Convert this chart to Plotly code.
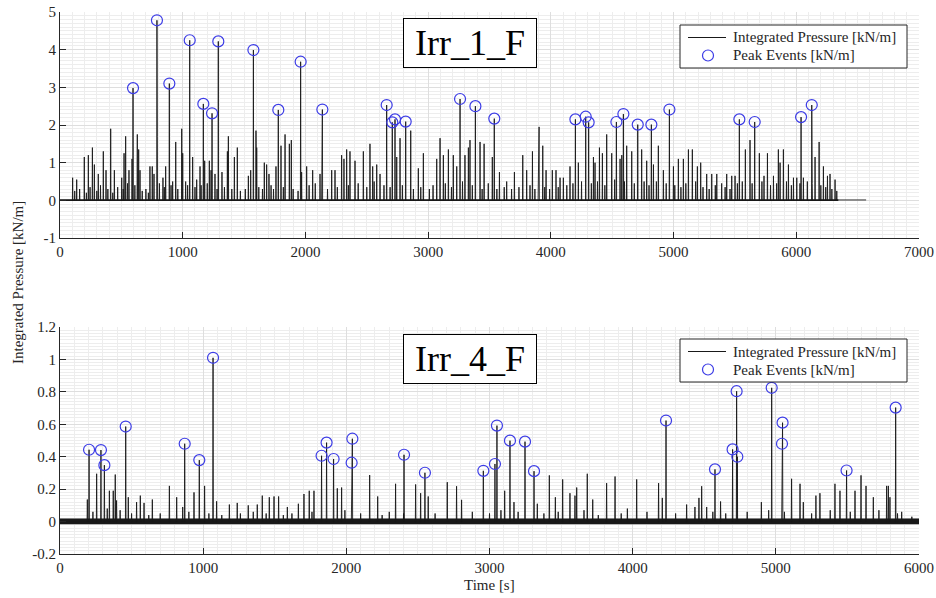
import plotly.graph_objects as go

# ---------------- data ----------------
# Top panel: Irr_1_F
TOP_PEAK_T = [595, 790, 891, 1057, 1168, 1239, 1290, 1576, 1779, 1961, 2138, 2662, 2708, 2730,
              2817, 3260, 3385, 3539, 4200, 4284, 4308, 4534, 4591, 4708, 4819, 4966, 5536,
              5661, 6039, 6126]
TOP_PEAK_V = [2.98, 4.78, 3.10, 4.25, 2.56, 2.31, 4.22, 3.99, 2.40, 3.68, 2.41, 2.53, 2.07, 2.15,
              2.09, 2.69, 2.50, 2.17, 2.15, 2.22, 2.07, 2.08, 2.29, 2.01, 2.01, 2.41, 2.15,
              2.08, 2.21, 2.53]
TOP_SPIKE_T = [103, 136, 198, 231, 264, 280, 312, 353, 375, 413, 443, 503, 522, 535, 562, 587,
               630, 641, 652, 733, 752, 766, 793, 839, 861, 918, 943, 992, 1000, 1024, 1081,
               1114, 1141, 1179, 1217, 1231, 1263, 1320, 1364, 1372, 1421, 1445, 1535, 1554,
               1597, 1603, 1665, 1684, 1703, 1760, 1801, 1834, 1869, 1885, 1969, 2010, 2059,
               2119, 2134, 2214, 2241, 2295, 2314, 2336, 2363, 2404, 2472, 2526, 2548, 2581,
               2608, 2744, 2771, 2858, 2920, 2961, 3070, 3097, 3124, 3165, 3205, 3233, 3300,
               3328, 3341, 3423, 3456, 3523, 3581, 3640, 3703, 3771, 3803, 3850, 3898, 3904,
               3934, 3961, 4012, 4042, 4075, 4102, 4156, 4224, 4347, 4360, 4396, 4420, 4455,
               4496, 4564, 4578, 4618, 4659, 4740, 4781, 4836, 4876, 4917, 4999, 5039, 5080,
               5121, 5153, 5194, 5221, 5270, 5311, 5352, 5392, 5433, 5474, 5501, 5585, 5623,
               5699, 5737, 5765, 5814, 5854, 5868, 5895, 5936, 5977, 6004, 6058, 6153, 6186,
               6221, 6254, 6275, 6316]
TOP_SPIKE_V = [0.60, 0.55, 1.15, 1.20, 1.40, 0.95, 0.70, 1.30, 0.80, 1.90, 0.80, 0.60, 1.25,
               1.70, 0.80, 1.10, 1.75, 1.35, 0.80, 0.90, 0.90, 0.70, 1.70, 0.60, 0.90, 0.50,
               1.55, 1.90, 1.25, 0.50, 1.15, 0.55, 0.90, 1.05, 1.05, 0.80, 0.70, 0.75, 1.30,
               1.70, 1.15, 1.40, 0.65, 0.80, 1.85, 1.40, 1.00, 0.95, 0.70, 0.90, 1.45, 1.75,
               1.50, 1.60, 0.75, 0.90, 0.80, 0.70, 1.95, 0.80, 0.80, 1.20, 1.10, 1.35, 1.30,
               1.05, 1.30, 1.50, 0.90, 0.95, 0.70, 1.15, 1.65, 1.85, 0.85, 1.25, 1.10, 1.65,
               1.20, 1.35, 1.20, 0.90, 1.20, 1.40, 1.60, 1.55, 1.50, 1.15, 0.75, 0.50, 0.75,
               1.20, 0.80, 1.30, 1.20, 1.95, 1.45, 0.80, 0.80, 0.80, 0.60, 0.60, 0.90, 1.00,
               1.15, 1.00, 1.40, 1.25, 1.75, 1.25, 1.10, 1.20, 1.45, 1.30, 1.35, 1.05, 0.95,
               1.45, 0.80, 0.90, 1.10, 1.10, 1.35, 1.35, 0.90, 1.00, 0.70, 0.70, 0.70, 0.45,
               0.70, 0.65, 0.65, 1.35, 1.60, 1.25, 0.65, 1.25, 0.65, 1.35, 1.00, 1.35, 0.95,
               0.60, 0.60, 0.60, 1.15, 1.55, 0.90, 0.65, 0.70, 0.55]
TOP_SMALL_T = [120, 160, 215, 245, 300, 330, 390, 430, 470, 515, 550, 610, 670, 700, 720, 810,
               850, 905, 960, 1040, 1100, 1150, 1200, 1280, 1340, 1400, 1470, 1510, 1620, 1650,
               1720, 1740, 1820, 1900, 1940, 2030, 2080, 2180, 2260, 2350, 2430, 2500, 2560,
               2640, 2690, 2790, 2880, 2940, 3010, 3040, 3140, 3190, 3280, 3360, 3440, 3490,
               3560, 3620, 3680, 3740, 3830, 3870, 3950, 3990, 4060, 4130, 4180, 4250, 4330,
               4380, 4440, 4520, 4600, 4680, 4760, 4800, 4860, 4940, 5010, 5060, 5100, 5180,
               5240, 5290, 5340, 5420, 5460, 5520, 5560, 5640, 5720, 5790, 5840, 5920, 5960,
               6030, 6090, 6130, 6200, 6240, 6290, 6330]
TOP_SMALL_V = [0.25, 0.30, 0.20, 0.35, 0.25, 0.40, 0.30, 0.20, 0.35, 0.30, 0.45, 0.40, 0.25,
               0.30, 0.20, 0.45, 0.35, 0.40, 0.30, 0.40, 0.35, 0.40, 0.45, 0.30, 0.35, 0.30,
               0.25, 0.30, 0.35, 0.30, 0.40, 0.30, 0.35, 0.30, 0.25, 0.40, 0.45, 0.30, 0.35,
               0.40, 0.45, 0.35, 0.50, 0.40, 0.35, 0.40, 0.30, 0.35, 0.30, 0.40, 0.45, 0.35,
               0.50, 0.40, 0.30, 0.45, 0.30, 0.35, 0.30, 0.35, 0.40, 0.30, 0.35, 0.30, 0.35,
               0.40, 0.45, 0.50, 0.45, 0.50, 0.40, 0.55, 0.50, 0.45, 0.50, 0.40, 0.50, 0.45,
               0.40, 0.35, 0.45, 0.50, 0.35, 0.30, 0.40, 0.35, 0.30, 0.45, 0.50, 0.45, 0.50,
               0.40, 0.45, 0.50, 0.40, 0.45, 0.50, 0.45, 0.40, 0.35, 0.30, 0.25]
TOP_ACTIVE_END = 6343      # end of the noisy record [s]
TOP_RECORD_END = 6569      # end of the record [s]
TOP_NOISE = (-0.02, 0.03)  # baseline noise band [kN/m]
TOP_TAIL_LEVEL = 0.01

# Bottom panel: Irr_4_F
BOT_PEAK_T = [203, 286, 310, 459, 871, 973, 1069, 1827, 1862, 1911, 2042, 2037, 2403, 2549,
              2957, 3038, 3052, 3143, 3248, 3311, 4233, 4575, 4698, 4726, 4731, 4971, 5047,
              5043, 5494, 5837]
BOT_PEAK_V = [0.443, 0.441, 0.348, 0.586, 0.480, 0.379, 1.010, 0.406, 0.487, 0.386, 0.511,
              0.363, 0.412, 0.301, 0.313, 0.355, 0.592, 0.499, 0.493, 0.311, 0.623, 0.322,
              0.445, 0.804, 0.400, 0.825, 0.610, 0.480, 0.315, 0.703]
BOT_SPIKE_T = [191, 256, 345, 372, 386, 395, 477, 535, 561, 587, 645, 764, 815, 857, 936,
               1010, 1094, 1183, 1238, 1315, 1378, 1413, 1462, 1495, 1527, 1588, 1665, 1704,
               1741, 1774, 1937, 1967, 2163, 2219, 2344, 2484, 2519, 2572, 2705, 2770, 2805,
               3106, 3171, 3334, 3418, 3460, 3511, 3562, 3597, 3609, 3683, 3721, 3818, 3877,
               3963, 4028, 4181, 4207, 4377, 4435, 4463, 4482, 4517, 4614, 4899, 5110, 5169,
               5192, 5280, 5308, 5413, 5448, 5553, 5595, 5630, 5681, 5774, 5786, 5797, 5879]
BOT_SPIKE_V = [0.136, 0.295, 0.190, 0.190, 0.290, 0.130, 0.150, 0.120, 0.160, 0.115, 0.136,
               0.220, 0.150, 0.090, 0.180, 0.220, 0.125, 0.105, 0.115, 0.100, 0.105, 0.160,
               0.150, 0.155, 0.155, 0.090, 0.110, 0.170, 0.190, 0.190, 0.205, 0.210, 0.287,
               0.155, 0.233, 0.229, 0.175, 0.155, 0.243, 0.218, 0.134, 0.190, 0.120, 0.110,
               0.285, 0.150, 0.260, 0.175, 0.160, 0.210, 0.295, 0.136, 0.237, 0.278, 0.080,
               0.260, 0.237, 0.146, 0.105, 0.090, 0.146, 0.218, 0.090, 0.124, 0.120, 0.264,
               0.233, 0.120, 0.160, 0.175, 0.233, 0.190, 0.190, 0.285, 0.220, 0.150, 0.220,
               0.220, 0.150, 0.060]
BOT_SMALL_T = [230, 330, 420, 500, 620, 700, 900, 1040, 1130, 1260, 1350, 1440, 1560, 1620,
               1760, 1990, 2100, 2250, 2300, 2400, 2620, 2880, 3000, 3080, 3200, 3380, 3480,
               3660, 3760, 3920, 4100, 4300, 4560, 4650, 4800, 4950, 5060, 5250, 5380, 5520,
               5720, 5850, 5950]
BOT_SMALL_V = [0.06, 0.08, 0.07, 0.05, 0.04, 0.05, 0.06, 0.05, 0.04, 0.05, 0.06, 0.05, 0.04,
               0.05, 0.06, 0.07, 0.05, 0.04, 0.06, 0.05, 0.05, 0.06, 0.05, 0.07, 0.06, 0.05,
               0.06, 0.07, 0.04, 0.05, 0.06, 0.05, 0.06, 0.05, 0.06, 0.07, 0.06, 0.05, 0.07,
               0.06, 0.07, 0.05, 0.03]
BOT_RECORD_END = 6000
BOT_NOISE = (-0.016, 0.019)

TOP_XTICKS = [0, 1000, 2000, 3000, 4000, 5000, 6000, 7000]
TOP_YTICKS = [-1, 0, 1, 2, 3, 4, 5]
TOP_YTICKTEXT = ["-1", "0", "1", "2", "3", "4", "5"]
BOT_XTICKS = [0, 1000, 2000, 3000, 4000, 5000, 6000]
BOT_YTICKS = [-0.2, 0, 0.2, 0.4, 0.6, 0.8, 1, 1.2]
BOT_YTICKTEXT = ["-0.2", "0", "0.2", "0.4", "0.6", "0.8", "1", "1.2"]

LINE_NAME = "Integrated Pressure [kN/m]"
PEAK_NAME = "Peak Events [kN/m]"
TITLES = ["Irr_1_F", "Irr_4_F"]
Y_LABEL = "Integrated Pressure [kN/m]"
X_LABEL = "Time [s]"

# ---------------- helpers ----------------
SPIKE_HALF_WIDTH = 2.0


def spike_line(groups, t_end, tail_level=0.0, active_end=None):
    pts = []
    for ts, vs in groups:
        pts.extend(zip(ts, vs))
    pts.sort()
    xs, ys = [0.0], [0.0]
    for t, v in pts:
        xs += [t - SPIKE_HALF_WIDTH, t, t + SPIKE_HALF_WIDTH]
        ys += [0.0, v, 0.0]
    if active_end is not None:
        xs.append(active_end)
        ys.append(tail_level)
    xs.append(t_end)
    ys.append(tail_level)
    return xs, ys


def band(t0, t1, lo, hi):
    return [t0, t1, t1, t0, t0], [lo, lo, hi, hi, lo]


FONT = "Liberation Serif"
AXCOL = "#262626"
MARKER_COL = "rgb(60,60,230)"
LINE_COL = "rgb(25,25,25)"

W, H = 936, 598
ML, MR, MT, MB = 60, 17, 12, 44
PW, PH = W - ML - MR, H - MT - MB


def px_x(px):
    return (px - ML) / PW


def px_y(py):
    return (H - MB - py) / PH


fig = go.Figure()

# ---- top panel ----
bx, by = band(0, TOP_ACTIVE_END, *TOP_NOISE)
fig.add_trace(go.Scatter(x=bx, y=by, fill="toself", fillcolor=LINE_COL, mode="lines",
                         line=dict(width=0, color=LINE_COL), showlegend=False,
                         hoverinfo="skip", xaxis="x", yaxis="y"))
lx, ly = spike_line([(TOP_PEAK_T, TOP_PEAK_V), (TOP_SPIKE_T, TOP_SPIKE_V),
                     (TOP_SMALL_T, TOP_SMALL_V)], TOP_RECORD_END,
                    tail_level=TOP_TAIL_LEVEL, active_end=TOP_ACTIVE_END)
fig.add_trace(go.Scatter(x=lx, y=ly, mode="lines", name=LINE_NAME, showlegend=False,
                         line=dict(color=LINE_COL, width=0.9), xaxis="x", yaxis="y"))
fig.add_trace(go.Scatter(x=TOP_PEAK_T, y=TOP_PEAK_V, mode="markers", name=PEAK_NAME,
                         showlegend=False,
                         marker=dict(symbol="circle-open", size=11, color=MARKER_COL,
                                     line=dict(width=1.2, color=MARKER_COL)),
                         xaxis="x", yaxis="y"))

# ---- bottom panel ----
bx, by = band(0, BOT_RECORD_END, *BOT_NOISE)
fig.add_trace(go.Scatter(x=bx, y=by, fill="toself", fillcolor=LINE_COL, mode="lines",
                         line=dict(width=0, color=LINE_COL), showlegend=False,
                         hoverinfo="skip", xaxis="x2", yaxis="y2"))
lx, ly = spike_line([(BOT_PEAK_T, BOT_PEAK_V), (BOT_SPIKE_T, BOT_SPIKE_V),
                     (BOT_SMALL_T, BOT_SMALL_V)], BOT_RECORD_END)
fig.add_trace(go.Scatter(x=lx, y=ly, mode="lines", name=LINE_NAME, showlegend=False,
                         line=dict(color=LINE_COL, width=0.9), xaxis="x2", yaxis="y2"))
fig.add_trace(go.Scatter(x=BOT_PEAK_T, y=BOT_PEAK_V, mode="markers", name=PEAK_NAME,
                         showlegend=False,
                         marker=dict(symbol="circle-open", size=11, color=MARKER_COL,
                                     line=dict(width=1.2, color=MARKER_COL)),
                         xaxis="x2", yaxis="y2"))

tickfont = dict(family=FONT, size=15, color=AXCOL)
common = dict(showline=True, linecolor=AXCOL, linewidth=1, ticks="inside", ticklen=6,
              tickcolor=AXCOL, tickfont=tickfont, showgrid=True,
              gridcolor="rgb(222,222,222)", gridwidth=1, zeroline=False, mirror=False,
              automargin=False, ticklabeloverflow="allow")
minor_style = dict(showgrid=True, gridcolor="rgb(237,237,237)", gridwidth=1, ticks="")

fig.update_layout(
    width=W, height=H,
    margin=dict(l=ML, r=MR, t=MT, b=MB, autoexpand=False),
    paper_bgcolor="white", plot_bgcolor="white",
    font=dict(family=FONT, color=AXCOL),
    showlegend=False,
    xaxis=dict(domain=[0, 1], anchor="y", range=[0, 7000], tickvals=TOP_XTICKS,
               minor=dict(dtick=100, **minor_style), **common),
    yaxis=dict(domain=[px_y(238), 1], anchor="x", range=[-1, 5], tickvals=TOP_YTICKS,
               ticktext=TOP_YTICKTEXT, minor=dict(dtick=0.1, **minor_style), **common),
    xaxis2=dict(domain=[0, 1], anchor="y2", range=[0, 6000], tickvals=BOT_XTICKS,
                minor=dict(dtick=100, **minor_style), **common),
    yaxis2=dict(domain=[0, px_y(327)], anchor="x2", range=[-0.2, 1.2], tickvals=BOT_YTICKS,
                ticktext=BOT_YTICKTEXT, minor=dict(dtick=0.02, **minor_style), **common),
)

# ---- title boxes, axis labels and legend boxes ----
annotations = []
shapes = []
for title, cy in zip(TITLES, [43, 359]):
    annotations.append(dict(text=title, xref="paper", yref="paper", x=px_x(470), y=px_y(cy),
                            showarrow=False, xanchor="center", yanchor="middle",
                            font=dict(family=FONT, size=36, color="black"), bgcolor="white",
                            bordercolor="black", borderwidth=1, width=132, height=48,
                            borderpad=0))
annotations.append(dict(text=Y_LABEL, xref="paper", yref="paper", x=px_x(18), y=px_y(283),
                        xanchor="center", yanchor="middle", textangle=-90, showarrow=False,
                        font=dict(family=FONT, size=15, color=AXCOL)))
annotations.append(dict(text=X_LABEL, xref="paper", yref="paper", x=px_x(489), y=px_y(585),
                        xanchor="center", yanchor="middle", showarrow=False,
                        font=dict(family=FONT, size=15, color=AXCOL)))

for top in [25, 339]:
    y1, y2 = top + 12.5, top + 30.5
    shapes.append(dict(type="rect", xref="paper", yref="paper", x0=px_x(680), x1=px_x(907),
                       y0=px_y(top + 43), y1=px_y(top), fillcolor="white",
                       line=dict(color=AXCOL, width=1), layer="above"))
    shapes.append(dict(type="line", xref="paper", yref="paper", x0=px_x(688), x1=px_x(726),
                       y0=px_y(y1), y1=px_y(y1), line=dict(color=LINE_COL, width=1),
                       layer="above"))
    shapes.append(dict(type="circle", xref="paper", yref="paper", xsizemode="pixel",
                       ysizemode="pixel", xanchor=px_x(708), yanchor=px_y(y2),
                       x0=-5.5, x1=5.5, y0=-5.5, y1=5.5,
                       line=dict(color=MARKER_COL, width=1.2), layer="above"))
    annotations.append(dict(text=LINE_NAME, xref="paper", yref="paper", x=px_x(731),
                            y=px_y(y1), xanchor="left", yanchor="middle", showarrow=False,
                            font=dict(family=FONT, size=15, color=AXCOL)))
    annotations.append(dict(text=PEAK_NAME, xref="paper", yref="paper", x=px_x(731),
                            y=px_y(y2), xanchor="left", yanchor="middle", showarrow=False,
                            font=dict(family=FONT, size=15, color=AXCOL)))

fig.update_layout(annotations=annotations, shapes=shapes)

fig.write_html("out.html",
               config={"displayModeBar": False},
               post_script="document.body.style.margin='0px';"
                           "document.body.style.padding='0px';"
                           "document.body.style.overflow='hidden';")
